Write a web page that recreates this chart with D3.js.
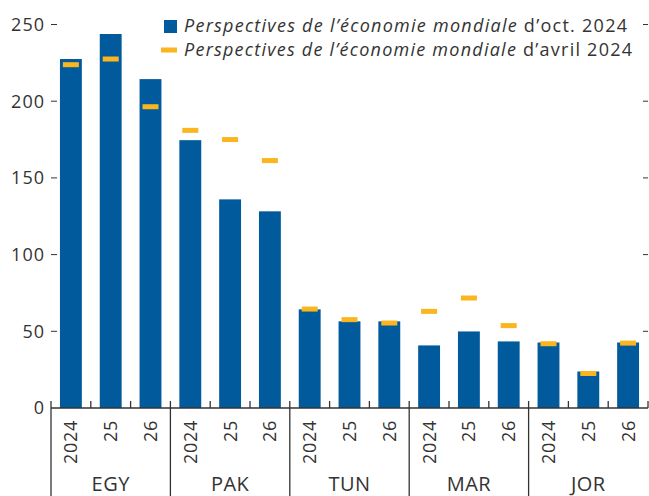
<!DOCTYPE html>
<html>
<head>
<meta charset="utf-8">
<script src="https://cdn.jsdelivr.net/npm/d3@7"></script>
<style>
  body { margin: 0; background: #fff; }
  svg { display: block; font-family: "Open Sans", "Noto Sans", sans-serif; }
</style>
</head>
<body>
<div id="chart"></div>
<script>
// data
const countries = ["EGY", "PAK", "TUN", "MAR", "JOR"];
const years = ["2024", "25", "26"];
const octValues = [227.5, 243.8, 214.4, 174.6, 136.0, 128.2, 64.3, 56.5, 56.5, 40.8, 49.9, 43.4, 42.7, 23.8, 42.7];
const aprValues = [223.8, 227.5, 196.4, 181.0, 175.0, 161.3, 64.5, 57.6, 55.4, 63.0, 71.7, 53.7, 41.9, 22.5, 42.3];
const yTicks = [0, 50, 100, 150, 200, 250];
const legendLabels = [
  {it: "Perspectives de l\u2019\u00e9conomie mondiale", rest: " d\u2019oct. 2024"},
  {it: "Perspectives de l\u2019\u00e9conomie mondiale", rest: " d\u2019avril 2024"}
];

const width = 649, height = 496;
const plotLeft = 51, plotRight = 648, plotTop = 24.5, base = 408;
const blue = "#005A9C", orange = "#FBB51F", ink = "#333";

// one key per bar
const keys = [];
countries.forEach(function(c){ years.forEach(function(yr){ keys.push(c + "-" + yr); }); });
const rows = keys.map(function(k, i){
  return {key: k, country: k.split("-")[0], year: k.split("-")[1], oct: octValues[i], apr: aprValues[i]};
});

const svg = d3.select("#chart").append("svg")
  .attr("width", width).attr("height", height);

const x = d3.scaleBand().domain(keys).range([plotLeft, plotRight]).paddingInner(0.45).paddingOuter(0.225);
const xStep = d3.scaleBand().domain(keys).range([plotLeft, plotRight]);
const y = d3.scaleLinear().domain([0, 250]).range([base, plotTop]);

// left y-axis labels + inner ticks
const yl = svg.append("g");
yl.selectAll("line").data(yTicks.filter(function(d){return d > 0;})).enter().append("line")
  .attr("x1", plotLeft).attr("x2", plotLeft + 6)
  .attr("y1", function(d){return y(d);}).attr("y2", function(d){return y(d);})
  .attr("stroke", ink).attr("stroke-width", 1);
yl.selectAll("text").data(yTicks).enter().append("text")
  .attr("x", plotLeft - 6).attr("y", function(d){return y(d);})
  .attr("dy", "0.36em").attr("text-anchor", "end")
  .attr("font-size", "18px").attr("letter-spacing", "1px").attr("fill", ink)
  .text(function(d){return d;});

// right ticks
svg.append("g").selectAll("line").data(yTicks.filter(function(d){return d > 0;})).enter().append("line")
  .attr("x1", plotRight - 5).attr("x2", plotRight)
  .attr("y1", function(d){return y(d);}).attr("y2", function(d){return y(d);})
  .attr("stroke", ink).attr("stroke-width", 1);

// bars
svg.append("g").selectAll("rect").data(rows).enter().append("rect")
  .attr("x", function(d){return x(d.key);})
  .attr("width", x.bandwidth())
  .attr("y", function(d){return y(d.oct);})
  .attr("height", function(d){return base - y(d.oct);})
  .attr("fill", blue);

// april markers
const dashW = 16, dashH = 5;
svg.append("g").selectAll("rect").data(rows).enter().append("rect")
  .attr("x", function(d){return x(d.key) + x.bandwidth()/2 - dashW/2;})
  .attr("y", function(d){return y(d.apr) - dashH/2;})
  .attr("width", dashW).attr("height", dashH)
  .attr("fill", orange);

// x axis baseline and ticks
const xa = svg.append("g").attr("stroke", ink).attr("stroke-width", 1.3);
xa.append("line").attr("x1", plotLeft).attr("x2", plotRight).attr("y1", base).attr("y2", base);
keys.forEach(function(k, i){
  const xx = xStep(k);
  if (i % 3 === 0) {
    xa.append("line").attr("x1", xx).attr("x2", xx).attr("y1", base - 7).attr("y2", height);
  } else {
    xa.append("line").attr("x1", xx).attr("x2", xx).attr("y1", base - 7).attr("y2", base);
  }
});
xa.append("line").attr("x1", plotRight).attr("x2", plotRight).attr("y1", base - 7).attr("y2", base);

// year labels (rotated)
svg.append("g").selectAll("text").data(rows).enter().append("text")
  .attr("transform", function(d){
    return "translate(" + (x(d.key) + x.bandwidth()/2) + "," + (base + 12) + ") rotate(-90)";
  })
  .attr("dy", "0.36em").attr("text-anchor", "end")
  .attr("font-size", "18px").attr("letter-spacing", "0.7px").attr("fill", ink)
  .text(function(d){return d.year;});

// country labels
svg.append("g").selectAll("text").data(countries).enter().append("text")
  .attr("x", function(c){ return (xStep(c + "-2024") + xStep(c + "-26") + xStep.bandwidth())/2; })
  .attr("y", 490.5)
  .attr("text-anchor", "middle")
  .attr("font-size", "20px").attr("letter-spacing", "0.5px").attr("fill", ink)
  .text(function(c){return c;});

// legend
const lg = svg.append("g").attr("font-size", "18px").attr("fill", ink);
lg.append("rect").attr("x", 164).attr("y", 20).attr("width", 13).attr("height", 13).attr("fill", blue);
lg.append("rect").attr("x", 161).attr("y", 47.5).attr("width", 16).attr("height", 5).attr("fill", orange);
const legendEnds = [627, 632];
legendLabels.forEach(function(l, i){
  const t = lg.append("text").attr("x", 184).attr("y", 32 + i * 24);
  t.append("tspan").attr("font-style", "italic").text(l.it);
  t.append("tspan").text(l.rest);
  // stretch spacing so the line ends where the reference does
  const len = t.node().getComputedTextLength();
  const n = (l.it + l.rest).length;
  t.attr("letter-spacing", ((legendEnds[i] - 184 - len) / (n - 1)) + "px");
});
</script>
</body>
</html>
